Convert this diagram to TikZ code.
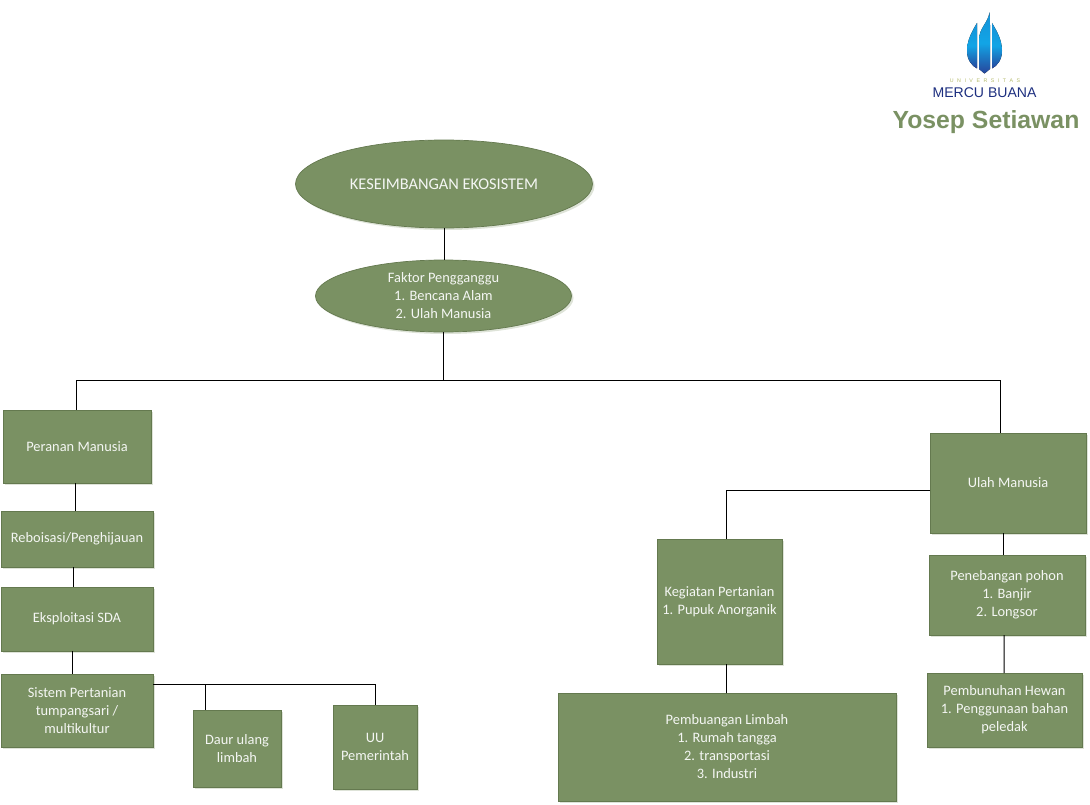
\documentclass[tikz,border=0pt]{standalone}
\usepackage{fontspec}
\setmainfont{Carlito}
\newfontfamily\logofont{Liberation Sans}
\usetikzlibrary{calc,positioning,shapes.geometric,shadows}
\definecolor{paletteMoss}{HTML}{7A9163}
\definecolor{mossEdge}{HTML}{64794F}
\definecolor{logoNavy}{HTML}{1D2F7F}
\definecolor{logoCyan}{HTML}{12A5E6}
\definecolor{logoBlue}{HTML}{27459B}
\definecolor{logoOlive}{HTML}{B4BA6C}

\begin{document}
\begin{tikzpicture}[
  font=\fontsize{8.2pt}{10.25pt}\selectfont,
  mossBase/.style={draw=mossEdge, line width=0.4pt, fill=paletteMoss, text=white!92!paletteMoss, align=center, inner sep=0pt, outer sep=0pt,
    drop shadow={shadow xshift=0.04cm, shadow yshift=-0.04cm, opacity=0.25, fill=paletteMoss}},
  mossBox/.style={mossBase, rectangle},
  mossOval/.style={mossBase, ellipse},
  link/.style={line width=0.55pt, draw=black},
  flame/.style={top color=logoCyan!80!logoBlue, bottom color=logoBlue, middle color=logoCyan, draw=none}
]
\useasboundingbox (0,0) rectangle (21.8,-16.08);

% top of the tree
\node[mossOval, minimum width=5.94cm, minimum height=1.76cm, font=\fontsize{9.3pt}{11pt}\selectfont] (balance) at (8.88,-3.68) {KESEIMBANGAN EKOSISTEM};
\node[mossOval, minimum width=5.12cm, minimum height=1.44cm] (factor) at (8.87,-5.92) {Faktor Pengganggu\\1. Bencana Alam\\2. Ulah Manusia};

% left branch
\node[mossBox, minimum width=2.96cm, minimum height=1.46cm] (role) at (1.54,-8.93) {Peranan Manusia};
\node[mossBox, minimum width=3.04cm, minimum height=1.12cm] (reforest) at (1.54,-10.78) {Reboisasi/Penghijauan};
\node[mossBox, minimum width=3.04cm, minimum height=1.28cm] (exploit) at (1.54,-12.38) {Eksploitasi SDA};
\node[mossBox, minimum width=3.04cm, minimum height=1.46cm] (farming) at (1.54,-14.21) {Sistem Pertanian\\tumpangsari /\\multikultur};
\node[mossBox, minimum width=1.76cm, minimum height=1.54cm] (recycle) at (4.74,-14.97) {Daur ulang\\limbah};
\node[mossBox, minimum width=1.68cm, minimum height=1.68cm] (law) at (7.50,-14.94) {UU\\Pemerintah};

% right branch
\node[mossBox, minimum width=3.12cm, minimum height=2.00cm] (human) at (20.16,-9.66) {Ulah Manusia};
\node[mossBox, minimum width=3.12cm, minimum height=1.60cm] (logging) at (20.14,-11.90) {Penebangan pohon\\1. Banjir\\2. Longsor};
\node[mossBox, minimum width=3.10cm, minimum height=1.48cm] (hunting) at (20.09,-14.20) {Pembunuhan Hewan\\1. Penggunaan bahan\\peledak};
\node[mossBox, minimum width=2.50cm, minimum height=2.50cm] (agri) at (14.39,-12.03) {Kegiatan Pertanian\\1. Pupuk Anorganik};
\node[mossBox, minimum width=6.76cm, minimum height=2.16cm] (waste) at (14.54,-14.94) {Pembuangan Limbah\\1. Rumah tangga\\2. transportasi\\3. Industri};

% bus and connectors
\coordinate (bus) at (8.87,-7.60);
\coordinate (farmBus) at (3.06,-13.68);
\coordinate (humanTap) at (18.60,-9.81);
\coordinate (agriTop) at (14.53,-10.78);
\draw[link] (balance.south) -- (balance.south |- factor.north);
\draw[link] (factor.south) -- (bus);
\draw[link] (bus) -| ([xshift=-0.02cm]role.north);
\draw[link] (bus) -| ([xshift=-0.16cm]human.north);
\draw[link] ([xshift=-0.04cm]role.south) -- ([xshift=-0.04cm]reforest.north);
\draw[link] ([xshift=-0.08cm]reforest.south) -- ([xshift=-0.08cm]exploit.north);
\draw[link] ([xshift=-0.10cm]exploit.south) -- ([xshift=-0.10cm]farming.north);
\draw[link] (farmBus) -| ([xshift=-0.64cm]recycle.north);
\draw[link] (farmBus) -| (law.north);
\draw[link] (humanTap) -| (agriTop);
\draw[link] ([xshift=-0.10cm]human.south) -- ([xshift=-0.08cm]logging.north);
\draw[link] ([xshift=-0.06cm]logging.south) -- ([xshift=-0.01cm]hunting.north);
\draw[link] ([xshift=0.14cm]agri.south) -- ([xshift=-0.01cm]waste.north);

% logo
\fill[flame] (19.54,-0.46) .. controls (19.42,-0.66) and (19.34,-0.82) .. (19.34,-1.02)
  .. controls (19.34,-1.20) and (19.44,-1.32) .. (19.54,-1.37) -- cycle;
\fill[flame] (19.79,-0.25) .. controls (19.76,-0.46) and (19.58,-0.56) .. (19.58,-0.80)
  -- (19.58,-1.38) -- (19.69,-1.47) -- (19.80,-1.38) -- (19.80,-0.60) .. controls (19.80,-0.48) and (19.80,-0.36) .. (19.79,-0.25) -- cycle;
\fill[flame] (19.84,-0.46) .. controls (19.96,-0.66) and (20.04,-0.82) .. (20.04,-1.02)
  .. controls (20.04,-1.20) and (19.94,-1.32) .. (19.84,-1.37) -- cycle;
\node[font=\logofont\fontsize{3pt}{3pt}\selectfont, text=logoOlive] (logoTop) at (19.70,-1.62) {U\,\,\,\,N\,\,\,\,I\,\,\,\,V\,\,\,\,E\,\,\,\,R\,\,\,\,S\,\,\,\,I\,\,\,\,T\,\,\,\,A\,\,\,\,S};
\node[font=\logofont\fontsize{8pt}{9pt}\selectfont, text=logoNavy] (logoName) at (19.69,-1.86) {MERCU BUANA};
\node[font=\logofont\bfseries\fontsize{14.1pt}{16pt}\selectfont, text=paletteMoss] (author) at (19.72,-2.44) {Yosep Setiawan};
\end{tikzpicture}
\end{document}
